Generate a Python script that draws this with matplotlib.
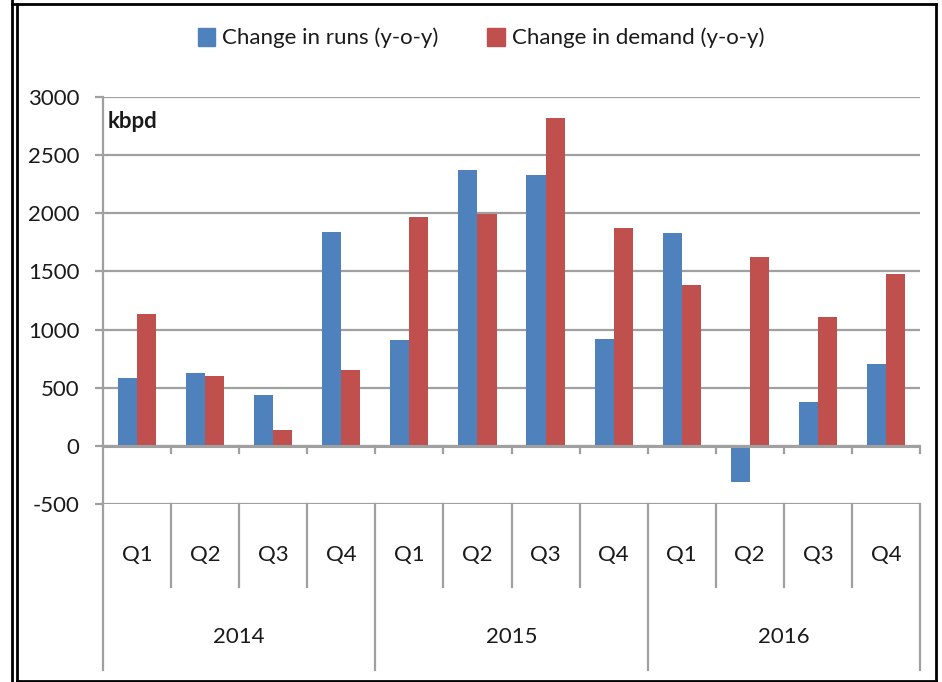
import matplotlib.pyplot as plt
from matplotlib.lines import Line2D
from matplotlib.patches import Patch
import numpy as np

# quarterly y-o-y changes, kbpd
quarters = ['Q1', 'Q2', 'Q3', 'Q4'] * 3
years = ['2014', '2015', '2016']
runs = [580, 630, 440, 1840, 910, 2370, 2330, 920, 1830, -310, 380, 700]
demand = [1130, 600, 140, 650, 1970, 1990, 2820, 1870, 1380, 1620, 1110, 1480]

plt.rcParams['font.family'] = ['Lato', 'DejaVu Sans']
plt.rcParams['axes.unicode_minus'] = False

BLUE = '#4F81BD'
RED = '#C0504D'
GRID = '#A0A0A0'
TXT = '#1a1a1a'
FS = 16

fig = plt.figure(figsize=(9.42, 6.82), dpi=100)
ax = fig.add_axes([103/942, 1 - 504/682, 817/942, 407/682])

x = np.arange(len(quarters))
w = 0.28
ax.bar(x - w/2, runs, w, color=BLUE, zorder=3)
ax.bar(x + w/2, demand, w, color=RED, zorder=3)

ax.set_xlim(-0.5, len(quarters) - 0.5)
ax.set_ylim(-500, 3000)
ax.set_yticks(np.arange(-500, 3001, 500))
ax.yaxis.grid(True, color=GRID, lw=1.6, zorder=0)
ax.tick_params(axis='y', length=6, width=1.6, color=GRID, pad=11, labelsize=FS,
               labelcolor=TXT)
ax.set_xticks([])
for s in ['top', 'right', 'bottom']:
    ax.spines[s].set_visible(False)
ax.spines['left'].set_color(GRID)
ax.spines['left'].set_linewidth(1.6)

# zero line with little ticks at category boundaries
ax.axhline(0, color=GRID, lw=2.2, zorder=4)
tr = ax.get_xaxis_transform()
for b in np.arange(0.5, len(quarters), 1.0):
    ax.plot([b, b], [0, -60], color=GRID, lw=1.6, zorder=4, clip_on=False)

# category table below the plot
ax.plot([-0.5, -0.5], [0, -0.408], transform=tr, color=GRID, lw=1.6, clip_on=False)
for b in np.arange(0.5, len(quarters), 1.0):
    bottom = -0.408 if (b + 0.5) % 4 == 0 else -0.204
    ax.plot([b, b], [0, bottom], transform=tr, color=GRID, lw=1.6, clip_on=False)
for i, q in enumerate(quarters):
    ax.text(i, -0.125, q, transform=tr, ha='center', va='center', fontsize=FS, color=TXT)
for j, yr in enumerate(years):
    ax.text(4 * j + 1.5, -0.327, yr, transform=tr, ha='center', va='center',
            fontsize=FS, color=TXT)

ax.text(0.006, 0.94, 'kbpd', transform=ax.transAxes, fontsize=FS, fontweight='bold',
        va='center', ha='left', color=TXT)

handles = [Patch(color=BLUE), Patch(color=RED)]
fig.legend(handles, ['Change in runs (y-o-y)', 'Change in demand (y-o-y)'],
           loc='center', bbox_to_anchor=(481/942, 1 - 38/682), ncol=2, frameon=False,
           fontsize=FS, handlelength=0.8, handleheight=0.9, handletextpad=0.3,
           columnspacing=2.2, labelcolor=TXT)

# outer frame
H, W = 682, 942
def fl(x0, y0, x1, y1, lw=2):
    fig.add_artist(Line2D([x0/W, x1/W], [1 - y0/H, 1 - y1/H], color='black', lw=lw))
fl(12, 0, 12, 682)
fl(17, 4, 17, 682)
fl(12, 4, 936, 4)
fl(936, 4, 936, 681)
fl(17, 681, 936, 681)

fig.savefig('out.png', dpi=100)
